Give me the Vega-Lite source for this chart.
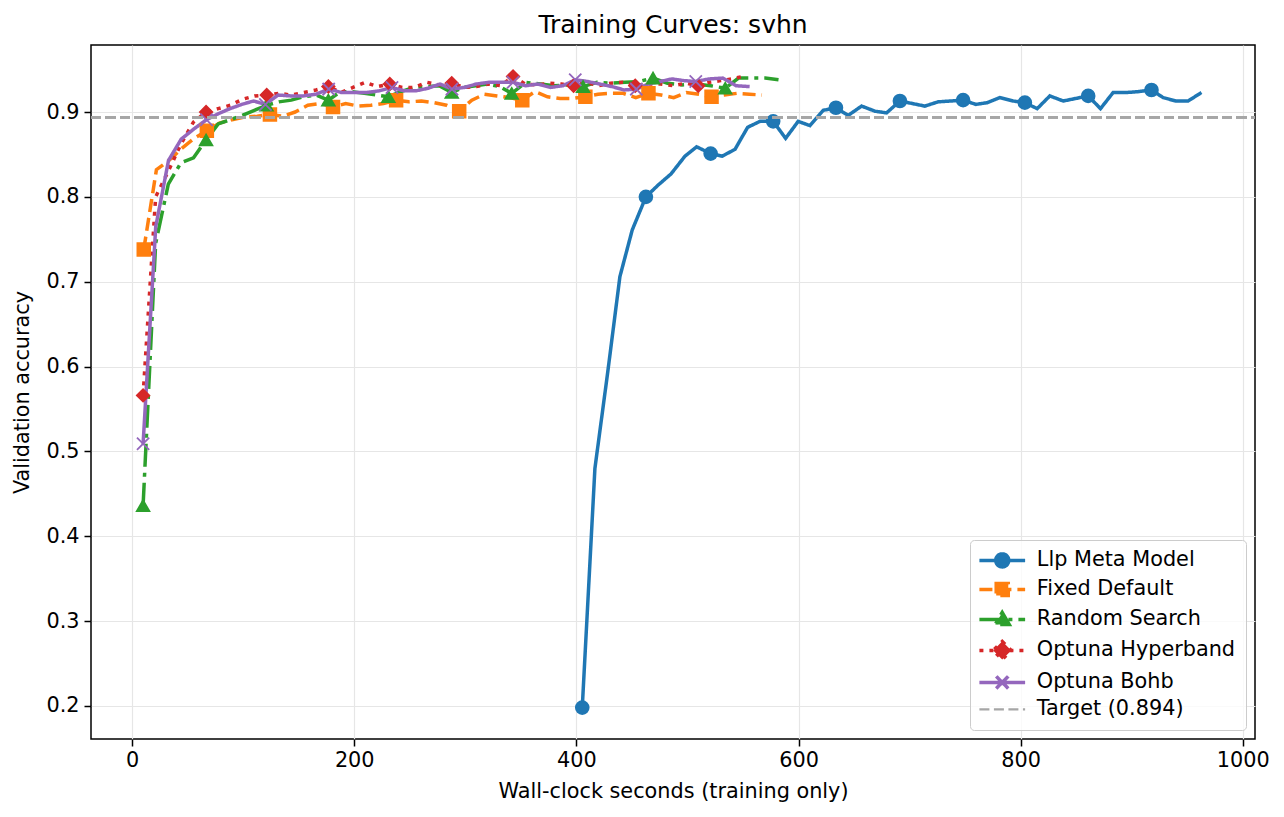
{
  "$schema": "https://vega.github.io/schema/vega-lite/v6.json",
  "autosize": {"type": "none"},
  "padding": {"left": 91, "top": 45, "right": 29, "bottom": 78},
  "width": 1164,
  "height": 694,
  "background": "white",
  "title": {"text": "Training Curves: svhn", "fontSize": 25, "font": "DejaVu Sans", "fontWeight": "normal", "color": "black", "offset": 7},
  "config": {
    "view": {"stroke": "black", "strokeWidth": 1.5},
    "font": "DejaVu Sans",
    "axis": {"grid": true, "gridColor": "#e6e6e6", "gridWidth": 1.2, "domain": false, "tickColor": "black", "tickWidth": 1.5, "tickSize": 7, "labelColor": "black", "labelFontSize": 20.8, "labelFont": "DejaVu Sans", "titleFont": "DejaVu Sans", "titleFontSize": 20.8, "titleFontWeight": "normal", "titleColor": "black", "labelFlush": false, "labelOverlap": false}
  },
  "data": {"values": [
    {"method":"Llp Meta Model","epoch":0,"seconds":405.3,"accuracy":0.198},
    {"method":"Llp Meta Model","epoch":1,"seconds":416.7,"accuracy":0.480},
    {"method":"Llp Meta Model","epoch":2,"seconds":428.2,"accuracy":0.593},
    {"method":"Llp Meta Model","epoch":3,"seconds":439.2,"accuracy":0.706},
    {"method":"Llp Meta Model","epoch":4,"seconds":450.3,"accuracy":0.761},
    {"method":"Llp Meta Model","epoch":5,"seconds":462.6,"accuracy":0.800},
    {"method":"Llp Meta Model","epoch":6,"seconds":473.7,"accuracy":0.814},
    {"method":"Llp Meta Model","epoch":7,"seconds":485.2,"accuracy":0.827},
    {"method":"Llp Meta Model","epoch":8,"seconds":497.8,"accuracy":0.848},
    {"method":"Llp Meta Model","epoch":9,"seconds":508.3,"accuracy":0.859},
    {"method":"Llp Meta Model","epoch":10,"seconds":520.9,"accuracy":0.851},
    {"method":"Llp Meta Model","epoch":11,"seconds":531.3,"accuracy":0.848},
    {"method":"Llp Meta Model","epoch":12,"seconds":542.8,"accuracy":0.856},
    {"method":"Llp Meta Model","epoch":13,"seconds":554.2,"accuracy":0.882},
    {"method":"Llp Meta Model","epoch":14,"seconds":565.3,"accuracy":0.889},
    {"method":"Llp Meta Model","epoch":15,"seconds":577.2,"accuracy":0.889},
    {"method":"Llp Meta Model","epoch":16,"seconds":588.4,"accuracy":0.869},
    {"method":"Llp Meta Model","epoch":17,"seconds":599.7,"accuracy":0.889},
    {"method":"Llp Meta Model","epoch":18,"seconds":610.3,"accuracy":0.884},
    {"method":"Llp Meta Model","epoch":19,"seconds":622.2,"accuracy":0.902},
    {"method":"Llp Meta Model","epoch":20,"seconds":633.7,"accuracy":0.905},
    {"method":"Llp Meta Model","epoch":21,"seconds":644.7,"accuracy":0.896},
    {"method":"Llp Meta Model","epoch":22,"seconds":656.8,"accuracy":0.907},
    {"method":"Llp Meta Model","epoch":23,"seconds":668.8,"accuracy":0.901},
    {"method":"Llp Meta Model","epoch":24,"seconds":679.3,"accuracy":0.899},
    {"method":"Llp Meta Model","epoch":25,"seconds":691.3,"accuracy":0.913},
    {"method":"Llp Meta Model","epoch":26,"seconds":702.5,"accuracy":0.910},
    {"method":"Llp Meta Model","epoch":27,"seconds":713.8,"accuracy":0.907},
    {"method":"Llp Meta Model","epoch":28,"seconds":725.7,"accuracy":0.912},
    {"method":"Llp Meta Model","epoch":29,"seconds":737.2,"accuracy":0.913},
    {"method":"Llp Meta Model","epoch":30,"seconds":748.2,"accuracy":0.914},
    {"method":"Llp Meta Model","epoch":31,"seconds":759.7,"accuracy":0.909},
    {"method":"Llp Meta Model","epoch":32,"seconds":769.8,"accuracy":0.911},
    {"method":"Llp Meta Model","epoch":33,"seconds":781.3,"accuracy":0.917},
    {"method":"Llp Meta Model","epoch":34,"seconds":793.2,"accuracy":0.913},
    {"method":"Llp Meta Model","epoch":35,"seconds":803.8,"accuracy":0.911},
    {"method":"Llp Meta Model","epoch":36,"seconds":814.9,"accuracy":0.904},
    {"method":"Llp Meta Model","epoch":37,"seconds":826.3,"accuracy":0.919},
    {"method":"Llp Meta Model","epoch":38,"seconds":838.3,"accuracy":0.913},
    {"method":"Llp Meta Model","epoch":39,"seconds":849.7,"accuracy":0.916},
    {"method":"Llp Meta Model","epoch":40,"seconds":860.8,"accuracy":0.919},
    {"method":"Llp Meta Model","epoch":41,"seconds":871.9,"accuracy":0.904},
    {"method":"Llp Meta Model","epoch":42,"seconds":883.3,"accuracy":0.923},
    {"method":"Llp Meta Model","epoch":43,"seconds":895.3,"accuracy":0.923},
    {"method":"Llp Meta Model","epoch":44,"seconds":905.8,"accuracy":0.924},
    {"method":"Llp Meta Model","epoch":45,"seconds":917.8,"accuracy":0.926},
    {"method":"Llp Meta Model","epoch":46,"seconds":928.3,"accuracy":0.917},
    {"method":"Llp Meta Model","epoch":47,"seconds":939.7,"accuracy":0.913},
    {"method":"Llp Meta Model","epoch":48,"seconds":950.8,"accuracy":0.913},
    {"method":"Llp Meta Model","epoch":49,"seconds":962.8,"accuracy":0.923},

    {"method":"Fixed Default","epoch":0,"seconds":10.5,"accuracy":0.738},
    {"method":"Fixed Default","epoch":1,"seconds":21.9,"accuracy":0.832},
    {"method":"Fixed Default","epoch":2,"seconds":33.2,"accuracy":0.843},
    {"method":"Fixed Default","epoch":3,"seconds":44.6,"accuracy":0.857},
    {"method":"Fixed Default","epoch":4,"seconds":55.9,"accuracy":0.869},
    {"method":"Fixed Default","epoch":5,"seconds":67.3,"accuracy":0.878},
    {"method":"Fixed Default","epoch":6,"seconds":78.7,"accuracy":0.887},
    {"method":"Fixed Default","epoch":7,"seconds":90.0,"accuracy":0.891},
    {"method":"Fixed Default","epoch":8,"seconds":101.4,"accuracy":0.894},
    {"method":"Fixed Default","epoch":9,"seconds":112.7,"accuracy":0.895},
    {"method":"Fixed Default","epoch":10,"seconds":124.1,"accuracy":0.897},
    {"method":"Fixed Default","epoch":11,"seconds":135.5,"accuracy":0.895},
    {"method":"Fixed Default","epoch":12,"seconds":146.8,"accuracy":0.900},
    {"method":"Fixed Default","epoch":13,"seconds":158.2,"accuracy":0.908},
    {"method":"Fixed Default","epoch":14,"seconds":169.5,"accuracy":0.910},
    {"method":"Fixed Default","epoch":15,"seconds":180.9,"accuracy":0.906},
    {"method":"Fixed Default","epoch":16,"seconds":192.3,"accuracy":0.910},
    {"method":"Fixed Default","epoch":17,"seconds":203.6,"accuracy":0.907},
    {"method":"Fixed Default","epoch":18,"seconds":215.0,"accuracy":0.908},
    {"method":"Fixed Default","epoch":19,"seconds":226.3,"accuracy":0.910},
    {"method":"Fixed Default","epoch":20,"seconds":237.7,"accuracy":0.914},
    {"method":"Fixed Default","epoch":21,"seconds":249.1,"accuracy":0.912},
    {"method":"Fixed Default","epoch":22,"seconds":260.4,"accuracy":0.913},
    {"method":"Fixed Default","epoch":23,"seconds":271.8,"accuracy":0.911},
    {"method":"Fixed Default","epoch":24,"seconds":283.1,"accuracy":0.908},
    {"method":"Fixed Default","epoch":25,"seconds":294.5,"accuracy":0.901},
    {"method":"Fixed Default","epoch":26,"seconds":305.9,"accuracy":0.914},
    {"method":"Fixed Default","epoch":27,"seconds":317.2,"accuracy":0.921},
    {"method":"Fixed Default","epoch":28,"seconds":328.6,"accuracy":0.919},
    {"method":"Fixed Default","epoch":29,"seconds":339.9,"accuracy":0.917},
    {"method":"Fixed Default","epoch":30,"seconds":351.3,"accuracy":0.914},
    {"method":"Fixed Default","epoch":31,"seconds":362.7,"accuracy":0.924},
    {"method":"Fixed Default","epoch":32,"seconds":374.0,"accuracy":0.918},
    {"method":"Fixed Default","epoch":33,"seconds":385.4,"accuracy":0.916},
    {"method":"Fixed Default","epoch":34,"seconds":396.7,"accuracy":0.916},
    {"method":"Fixed Default","epoch":35,"seconds":408.1,"accuracy":0.918},
    {"method":"Fixed Default","epoch":36,"seconds":419.5,"accuracy":0.921},
    {"method":"Fixed Default","epoch":37,"seconds":430.8,"accuracy":0.922},
    {"method":"Fixed Default","epoch":38,"seconds":442.2,"accuracy":0.922},
    {"method":"Fixed Default","epoch":39,"seconds":453.5,"accuracy":0.917},
    {"method":"Fixed Default","epoch":40,"seconds":464.9,"accuracy":0.922},
    {"method":"Fixed Default","epoch":41,"seconds":476.3,"accuracy":0.920},
    {"method":"Fixed Default","epoch":42,"seconds":487.6,"accuracy":0.917},
    {"method":"Fixed Default","epoch":43,"seconds":499.0,"accuracy":0.923},
    {"method":"Fixed Default","epoch":44,"seconds":510.3,"accuracy":0.921},
    {"method":"Fixed Default","epoch":45,"seconds":521.7,"accuracy":0.918},
    {"method":"Fixed Default","epoch":46,"seconds":533.1,"accuracy":0.920},
    {"method":"Fixed Default","epoch":47,"seconds":544.4,"accuracy":0.922},
    {"method":"Fixed Default","epoch":48,"seconds":555.8,"accuracy":0.921},
    {"method":"Fixed Default","epoch":49,"seconds":567.1,"accuracy":0.920},

    {"method":"Random Search","epoch":0,"seconds":9.9,"accuracy":0.436},
    {"method":"Random Search","epoch":1,"seconds":21.2,"accuracy":0.745},
    {"method":"Random Search","epoch":2,"seconds":32.6,"accuracy":0.815},
    {"method":"Random Search","epoch":3,"seconds":43.9,"accuracy":0.840},
    {"method":"Random Search","epoch":4,"seconds":55.3,"accuracy":0.846},
    {"method":"Random Search","epoch":5,"seconds":66.6,"accuracy":0.867},
    {"method":"Random Search","epoch":6,"seconds":77.5,"accuracy":0.886},
    {"method":"Random Search","epoch":7,"seconds":88.4,"accuracy":0.891},
    {"method":"Random Search","epoch":8,"seconds":99.2,"accuracy":0.896},
    {"method":"Random Search","epoch":9,"seconds":110.1,"accuracy":0.902},
    {"method":"Random Search","epoch":10,"seconds":121.0,"accuracy":0.908},
    {"method":"Random Search","epoch":11,"seconds":132.1,"accuracy":0.912},
    {"method":"Random Search","epoch":12,"seconds":143.3,"accuracy":0.914},
    {"method":"Random Search","epoch":13,"seconds":154.4,"accuracy":0.918},
    {"method":"Random Search","epoch":14,"seconds":165.6,"accuracy":0.920},
    {"method":"Random Search","epoch":15,"seconds":176.7,"accuracy":0.914},
    {"method":"Random Search","epoch":16,"seconds":187.5,"accuracy":0.924},
    {"method":"Random Search","epoch":17,"seconds":198.3,"accuracy":0.924},
    {"method":"Random Search","epoch":18,"seconds":209.1,"accuracy":0.922},
    {"method":"Random Search","epoch":19,"seconds":219.9,"accuracy":0.920},
    {"method":"Random Search","epoch":20,"seconds":230.7,"accuracy":0.918},
    {"method":"Random Search","epoch":21,"seconds":242.1,"accuracy":0.924},
    {"method":"Random Search","epoch":22,"seconds":253.5,"accuracy":0.929},
    {"method":"Random Search","epoch":23,"seconds":265.0,"accuracy":0.930},
    {"method":"Random Search","epoch":24,"seconds":276.4,"accuracy":0.931},
    {"method":"Random Search","epoch":25,"seconds":287.8,"accuracy":0.923},
    {"method":"Random Search","epoch":26,"seconds":298.6,"accuracy":0.929},
    {"method":"Random Search","epoch":27,"seconds":309.4,"accuracy":0.931},
    {"method":"Random Search","epoch":28,"seconds":320.2,"accuracy":0.933},
    {"method":"Random Search","epoch":29,"seconds":331.0,"accuracy":0.930},
    {"method":"Random Search","epoch":30,"seconds":341.8,"accuracy":0.922},
    {"method":"Random Search","epoch":31,"seconds":354.6,"accuracy":0.935},
    {"method":"Random Search","epoch":32,"seconds":367.5,"accuracy":0.933},
    {"method":"Random Search","epoch":33,"seconds":380.3,"accuracy":0.931},
    {"method":"Random Search","epoch":34,"seconds":393.2,"accuracy":0.932},
    {"method":"Random Search","epoch":35,"seconds":406.0,"accuracy":0.930},
    {"method":"Random Search","epoch":36,"seconds":418.6,"accuracy":0.935},
    {"method":"Random Search","epoch":37,"seconds":431.2,"accuracy":0.934},
    {"method":"Random Search","epoch":38,"seconds":443.8,"accuracy":0.935},
    {"method":"Random Search","epoch":39,"seconds":456.4,"accuracy":0.936},
    {"method":"Random Search","epoch":40,"seconds":469.0,"accuracy":0.940},
    {"method":"Random Search","epoch":41,"seconds":482.0,"accuracy":0.934},
    {"method":"Random Search","epoch":42,"seconds":495.0,"accuracy":0.932},
    {"method":"Random Search","epoch":43,"seconds":508.0,"accuracy":0.933},
    {"method":"Random Search","epoch":44,"seconds":521.0,"accuracy":0.931},
    {"method":"Random Search","epoch":45,"seconds":534.0,"accuracy":0.928},
    {"method":"Random Search","epoch":46,"seconds":546.0,"accuracy":0.940},
    {"method":"Random Search","epoch":47,"seconds":558.0,"accuracy":0.940},
    {"method":"Random Search","epoch":48,"seconds":570.0,"accuracy":0.940},
    {"method":"Random Search","epoch":49,"seconds":582.0,"accuracy":0.938},

    {"method":"Optuna Hyperband","epoch":0,"seconds":9.9,"accuracy":0.566},
    {"method":"Optuna Hyperband","epoch":1,"seconds":21.2,"accuracy":0.800},
    {"method":"Optuna Hyperband","epoch":2,"seconds":32.5,"accuracy":0.830},
    {"method":"Optuna Hyperband","epoch":3,"seconds":43.9,"accuracy":0.862},
    {"method":"Optuna Hyperband","epoch":4,"seconds":55.2,"accuracy":0.888},
    {"method":"Optuna Hyperband","epoch":5,"seconds":66.6,"accuracy":0.900},
    {"method":"Optuna Hyperband","epoch":6,"seconds":77.5,"accuracy":0.904},
    {"method":"Optuna Hyperband","epoch":7,"seconds":88.4,"accuracy":0.908},
    {"method":"Optuna Hyperband","epoch":8,"seconds":99.4,"accuracy":0.915},
    {"method":"Optuna Hyperband","epoch":9,"seconds":110.3,"accuracy":0.919},
    {"method":"Optuna Hyperband","epoch":10,"seconds":121.2,"accuracy":0.920},
    {"method":"Optuna Hyperband","epoch":11,"seconds":132.3,"accuracy":0.922},
    {"method":"Optuna Hyperband","epoch":12,"seconds":143.4,"accuracy":0.920},
    {"method":"Optuna Hyperband","epoch":13,"seconds":154.5,"accuracy":0.923},
    {"method":"Optuna Hyperband","epoch":14,"seconds":165.6,"accuracy":0.926},
    {"method":"Optuna Hyperband","epoch":15,"seconds":176.7,"accuracy":0.930},
    {"method":"Optuna Hyperband","epoch":16,"seconds":187.8,"accuracy":0.923},
    {"method":"Optuna Hyperband","epoch":17,"seconds":198.9,"accuracy":0.929},
    {"method":"Optuna Hyperband","epoch":18,"seconds":210.0,"accuracy":0.935},
    {"method":"Optuna Hyperband","epoch":19,"seconds":221.0,"accuracy":0.930},
    {"method":"Optuna Hyperband","epoch":20,"seconds":232.0,"accuracy":0.933},
    {"method":"Optuna Hyperband","epoch":21,"seconds":243.2,"accuracy":0.929},
    {"method":"Optuna Hyperband","epoch":22,"seconds":254.3,"accuracy":0.929},
    {"method":"Optuna Hyperband","epoch":23,"seconds":265.5,"accuracy":0.935},
    {"method":"Optuna Hyperband","epoch":24,"seconds":276.6,"accuracy":0.932},
    {"method":"Optuna Hyperband","epoch":25,"seconds":287.8,"accuracy":0.934},
    {"method":"Optuna Hyperband","epoch":26,"seconds":298.8,"accuracy":0.929},
    {"method":"Optuna Hyperband","epoch":27,"seconds":309.9,"accuracy":0.930},
    {"method":"Optuna Hyperband","epoch":28,"seconds":320.9,"accuracy":0.933},
    {"method":"Optuna Hyperband","epoch":29,"seconds":332.0,"accuracy":0.931},
    {"method":"Optuna Hyperband","epoch":30,"seconds":343.0,"accuracy":0.942},
    {"method":"Optuna Hyperband","epoch":31,"seconds":353.9,"accuracy":0.933},
    {"method":"Optuna Hyperband","epoch":32,"seconds":364.8,"accuracy":0.932},
    {"method":"Optuna Hyperband","epoch":33,"seconds":375.7,"accuracy":0.934},
    {"method":"Optuna Hyperband","epoch":34,"seconds":386.6,"accuracy":0.933},
    {"method":"Optuna Hyperband","epoch":35,"seconds":397.5,"accuracy":0.931},
    {"method":"Optuna Hyperband","epoch":36,"seconds":408.6,"accuracy":0.935},
    {"method":"Optuna Hyperband","epoch":37,"seconds":419.7,"accuracy":0.931},
    {"method":"Optuna Hyperband","epoch":38,"seconds":430.8,"accuracy":0.934},
    {"method":"Optuna Hyperband","epoch":39,"seconds":441.9,"accuracy":0.935},
    {"method":"Optuna Hyperband","epoch":40,"seconds":453.0,"accuracy":0.931},
    {"method":"Optuna Hyperband","epoch":41,"seconds":464.3,"accuracy":0.933},
    {"method":"Optuna Hyperband","epoch":42,"seconds":475.7,"accuracy":0.933},
    {"method":"Optuna Hyperband","epoch":43,"seconds":487.0,"accuracy":0.931},
    {"method":"Optuna Hyperband","epoch":44,"seconds":498.4,"accuracy":0.934},
    {"method":"Optuna Hyperband","epoch":45,"seconds":509.7,"accuracy":0.931},
    {"method":"Optuna Hyperband","epoch":46,"seconds":519.8,"accuracy":0.935},
    {"method":"Optuna Hyperband","epoch":47,"seconds":530.0,"accuracy":0.937},
    {"method":"Optuna Hyperband","epoch":48,"seconds":540.0,"accuracy":0.939},
    {"method":"Optuna Hyperband","epoch":49,"seconds":550.0,"accuracy":0.942},

    {"method":"Optuna Bohb","epoch":0,"seconds":9.9,"accuracy":0.509},
    {"method":"Optuna Bohb","epoch":1,"seconds":21.3,"accuracy":0.765},
    {"method":"Optuna Bohb","epoch":2,"seconds":32.8,"accuracy":0.843},
    {"method":"Optuna Bohb","epoch":3,"seconds":44.2,"accuracy":0.868},
    {"method":"Optuna Bohb","epoch":4,"seconds":55.6,"accuracy":0.880},
    {"method":"Optuna Bohb","epoch":5,"seconds":67.0,"accuracy":0.891},
    {"method":"Optuna Bohb","epoch":6,"seconds":77.6,"accuracy":0.898},
    {"method":"Optuna Bohb","epoch":7,"seconds":88.2,"accuracy":0.904},
    {"method":"Optuna Bohb","epoch":8,"seconds":98.8,"accuracy":0.909},
    {"method":"Optuna Bohb","epoch":9,"seconds":109.4,"accuracy":0.913},
    {"method":"Optuna Bohb","epoch":10,"seconds":120.0,"accuracy":0.909},
    {"method":"Optuna Bohb","epoch":11,"seconds":131.4,"accuracy":0.920},
    {"method":"Optuna Bohb","epoch":12,"seconds":142.8,"accuracy":0.919},
    {"method":"Optuna Bohb","epoch":13,"seconds":154.2,"accuracy":0.919},
    {"method":"Optuna Bohb","epoch":14,"seconds":165.6,"accuracy":0.921},
    {"method":"Optuna Bohb","epoch":15,"seconds":177.0,"accuracy":0.927},
    {"method":"Optuna Bohb","epoch":16,"seconds":188.4,"accuracy":0.923},
    {"method":"Optuna Bohb","epoch":17,"seconds":199.8,"accuracy":0.923},
    {"method":"Optuna Bohb","epoch":18,"seconds":211.2,"accuracy":0.923},
    {"method":"Optuna Bohb","epoch":19,"seconds":222.6,"accuracy":0.925},
    {"method":"Optuna Bohb","epoch":20,"seconds":234.0,"accuracy":0.929},
    {"method":"Optuna Bohb","epoch":21,"seconds":244.8,"accuracy":0.925},
    {"method":"Optuna Bohb","epoch":22,"seconds":255.6,"accuracy":0.925},
    {"method":"Optuna Bohb","epoch":23,"seconds":266.4,"accuracy":0.928},
    {"method":"Optuna Bohb","epoch":24,"seconds":277.2,"accuracy":0.933},
    {"method":"Optuna Bohb","epoch":25,"seconds":288.0,"accuracy":0.927},
    {"method":"Optuna Bohb","epoch":26,"seconds":299.0,"accuracy":0.929},
    {"method":"Optuna Bohb","epoch":27,"seconds":310.0,"accuracy":0.933},
    {"method":"Optuna Bohb","epoch":28,"seconds":321.0,"accuracy":0.935},
    {"method":"Optuna Bohb","epoch":29,"seconds":332.0,"accuracy":0.935},
    {"method":"Optuna Bohb","epoch":30,"seconds":343.0,"accuracy":0.935},
    {"method":"Optuna Bohb","epoch":31,"seconds":354.2,"accuracy":0.931},
    {"method":"Optuna Bohb","epoch":32,"seconds":365.4,"accuracy":0.933},
    {"method":"Optuna Bohb","epoch":33,"seconds":376.6,"accuracy":0.929},
    {"method":"Optuna Bohb","epoch":34,"seconds":387.8,"accuracy":0.931},
    {"method":"Optuna Bohb","epoch":35,"seconds":399.0,"accuracy":0.938},
    {"method":"Optuna Bohb","epoch":36,"seconds":410.0,"accuracy":0.936},
    {"method":"Optuna Bohb","epoch":37,"seconds":421.0,"accuracy":0.933},
    {"method":"Optuna Bohb","epoch":38,"seconds":432.0,"accuracy":0.930},
    {"method":"Optuna Bohb","epoch":39,"seconds":443.0,"accuracy":0.926},
    {"method":"Optuna Bohb","epoch":40,"seconds":454.0,"accuracy":0.927},
    {"method":"Optuna Bohb","epoch":41,"seconds":464.7,"accuracy":0.933},
    {"method":"Optuna Bohb","epoch":42,"seconds":475.4,"accuracy":0.936},
    {"method":"Optuna Bohb","epoch":43,"seconds":486.1,"accuracy":0.939},
    {"method":"Optuna Bohb","epoch":44,"seconds":496.8,"accuracy":0.937},
    {"method":"Optuna Bohb","epoch":45,"seconds":507.5,"accuracy":0.936},
    {"method":"Optuna Bohb","epoch":46,"seconds":519.6,"accuracy":0.939},
    {"method":"Optuna Bohb","epoch":47,"seconds":531.7,"accuracy":0.940},
    {"method":"Optuna Bohb","epoch":48,"seconds":543.8,"accuracy":0.931},
    {"method":"Optuna Bohb","epoch":49,"seconds":556.0,"accuracy":0.930}
  ]},
  "encoding": {
    "x": {"field": "seconds", "type": "quantitative", "scale": {"domain": [-37, 1011], "nice": false, "zero": false},
      "axis": {"values": [0, 200, 400, 600, 800, 1000], "format": "d", "labelPadding": 4, "title": "Wall-clock seconds (training only)", "titleX": 582, "titleY": 52, "titleBaseline": "middle", "titleAlign": "center"}},
    "y": {"field": "accuracy", "type": "quantitative", "scale": {"domain": [0.161, 0.979], "nice": false, "zero": false},
      "axis": {"values": [0.2, 0.3, 0.4, 0.5, 0.6, 0.7, 0.8, 0.9], "format": ".1f", "labelPadding": 5, "title": "Validation accuracy", "titleX": -69, "titleY": 347, "titleAngle": 270, "titleBaseline": "middle", "titleAlign": "center"}}
  },
  "layer": [
    {
      "mark": {"type": "line", "strokeWidth": 3.5},
      "encoding": {
        "color": {"field": "method", "type": "nominal",
          "scale": {"domain": ["Llp Meta Model", "Fixed Default", "Random Search", "Optuna Hyperband", "Optuna Bohb", "Target (0.894)"],
                    "range": ["#1f77b4", "#ff7f0e", "#2ca02c", "#d62728", "#9467bd", "#a6a6a6"]},
          "legend": {
            "title": null, "orient": "none", "legendX": 879, "legendY": 495,
            "labelFontSize": 20.8, "labelFont": "DejaVu Sans", "labelColor": "black", "labelLimit": 400,
            "symbolSize": 196, "labelOffset": 36, "rowPadding": 2, "padding": 10,
            "strokeColor": "#cccccc", "fillColor": "rgba(255,255,255,0.8)", "cornerRadius": 4,
            "symbolStrokeWidth": 3.5,
            "encode": {"symbols": {"update": {
              "shape": {"signal": "datum.value === 'Llp Meta Model' ? 'M-1.57,0H4.96M2.62,0A0.93,0.93,0,1,1,0.76,0A0.93,0.93,0,1,1,2.62,0Z' : datum.value === 'Fixed Default' ? 'M-1.57,0H4.96M0.83,-0.86H2.55V0.86H0.83Z' : datum.value === 'Random Search' ? 'M-1.57,0H4.96M1.69,-1L2.69,0.73H0.69Z' : datum.value === 'Optuna Hyperband' ? 'M-1.57,0H4.96M1.69,-1.29L2.98,0L1.69,1.29L0.4,0Z' : datum.value === 'Optuna Bohb' ? 'M-1.57,0H4.96M0.83,-0.86L2.55,0.86M0.83,0.86L2.55,-0.86' : 'M-1.57,0H4.96'"},
              "stroke": {"signal": "scale('color', datum.value)"},
              "fill": {"signal": "datum.value === 'Target (0.894)' || datum.value === 'Optuna Bohb' ? 'transparent' : scale('color', datum.value)"},
              "strokeDash": {"signal": "datum.value === 'Fixed Default' ? [13,6] : datum.value === 'Random Search' ? [23,6,4,6] : datum.value === 'Optuna Hyperband' ? [4,6] : datum.value === 'Target (0.894)' ? [10,4.5] : [1,0]"},
              "strokeWidth": {"signal": "datum.value === 'Target (0.894)' ? 2.3 : 3.5"},
              "opacity": {"value": 1}
            }}}
          }},
        "strokeDash": {"field": "method", "type": "nominal",
          "scale": {"domain": ["Llp Meta Model", "Fixed Default", "Random Search", "Optuna Hyperband", "Optuna Bohb"],
                    "range": [[1, 0], [13, 6], [23, 6, 4, 6], [4, 6], [1, 0]]},
          "legend": null}
      }
    },
    {
      "transform": [{"filter": "datum.epoch % 5 === 0"}],
      "mark": {"type": "point", "filled": true, "opacity": 1, "strokeWidth": 1.8},
      "encoding": {
        "color": {"field": "method", "type": "nominal"},
        "stroke": {"field": "method", "type": "nominal",
          "scale": {"domain": ["Llp Meta Model", "Fixed Default", "Random Search", "Optuna Hyperband", "Optuna Bohb"],
                    "range": ["#1f77b4", "#ff7f0e", "#2ca02c", "#d62728", "#9467bd"]},
          "legend": null},
        "shape": {"field": "method", "type": "nominal",
          "scale": {"domain": ["Llp Meta Model", "Fixed Default", "Random Search", "Optuna Hyperband", "Optuna Bohb"],
                    "range": ["circle", "square", "triangle-up", "diamond", "M-1,-1L1,1M-1,1L1,-1"]},
          "legend": null},
        "size": {"field": "method", "type": "nominal",
          "scale": {"domain": ["Llp Meta Model", "Fixed Default", "Random Search", "Optuna Hyperband", "Optuna Bohb"],
                    "range": [165, 150, 220, 380, 160]},
          "legend": null}
      }
    },
    {
      "mark": {"type": "rule", "strokeDash": [10, 4.5], "strokeWidth": 2.3},
      "encoding": {
        "x": {"value": 0},
        "x2": {"value": 1164},
        "y": {"datum": 0.894},
        "color": {"datum": "Target (0.894)"}
      }
    }
  ]
}
